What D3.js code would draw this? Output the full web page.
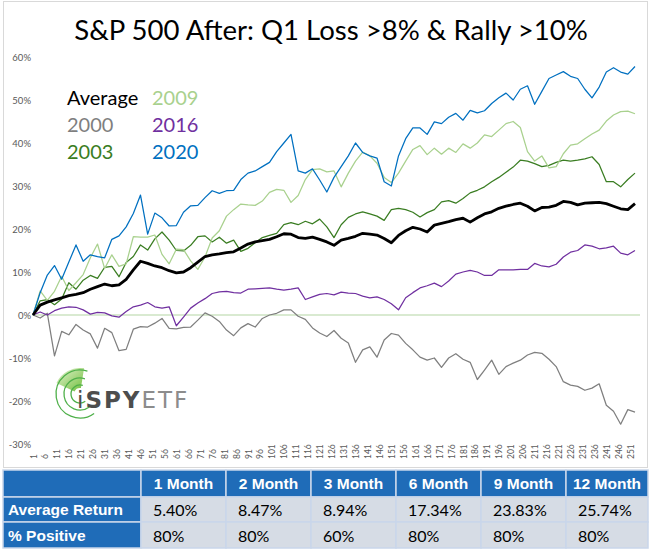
<!DOCTYPE html>
<html><head><meta charset="utf-8">
<script src="https://cdn.jsdelivr.net/npm/d3@7"></script>
<style>body{margin:0;background:#fff} svg{display:block}</style>
</head><body><svg id="c" width="650" height="552"></svg>
<script>
// ---------- DATA ----------
const days = d3.range(1, 254, 3);            // trading day of each sample
const xTickLabels = d3.range(1, 252, 5);     // 1, 6, 11 ... 251
const yTickValues = [-30, -20, -10, 0, 10, 20, 30, 40, 50, 60];

const avgVals = [0, 2.3, 3.0, 3.5, 4.0, 4.5, 4.8, 5.2, 6.0, 6.6,
 7.2, 6.8, 7.0, 8.3, 10.5, 12.5, 12.0, 11.4, 11.0, 10.3,
 9.8, 10.0, 11.0, 12.3, 13.6, 14.0, 14.2, 14.5, 14.7, 15.6,
 16.5, 17.0, 17.3, 17.6, 18.2, 18.9, 18.8, 18.0, 17.8, 18.1,
 17.6, 17.0, 16.2, 17.4, 17.8, 18.3, 19.0, 18.8, 18.6, 17.8,
 16.8, 18.5, 19.6, 20.4, 20.0, 19.3, 20.9, 21.3, 21.7, 22.2,
 22.5, 21.6, 22.6, 23.5, 24.0, 24.8, 25.3, 25.7, 26.0, 25.3,
 24.2, 25.0, 25.1, 25.5, 26.4, 26.2, 25.6, 26.0, 26.1, 26.2,
 25.9, 25.3, 24.7, 24.5, 25.9];
const vals2000 = [0, -0.7, 0.4, -9.5, -3.8, -4.6, -2.2, -3.5, -4.4, -7.7,
 -3.1, -4.1, -8.3, -8.0, -3.3, -2.7, -2.8, -1.9, -0.8, -3.1,
 -3.2, -2.9, -2.8, -1.2, 0.5, -0.3, -1.5, -3.5, -4.8, -3.0,
 -2.0, -2.8, -0.8, 0.0, 0.4, 1.2, 1.2, -0.3, -1.0, -3.0,
 -4.2, -5.0, -3.6, -5.4, -6.5, -11.0, -8.1, -7.4, -9.8, -5.8,
 -4.3, -4.7, -6.6, -8.1, -9.8, -10.5, -10.0, -12.2, -10.0, -9.0,
 -10.3, -11.0, -15.0, -12.8, -10.5, -13.8, -12.0, -11.2, -10.5, -9.3,
 -8.7, -8.9, -10.3, -12.0, -15.5, -16.3, -16.6, -17.5, -17.0, -16.0,
 -21.0, -22.4, -25.4, -22.0, -22.6];
const vals2003 = [0, 3.3, 3.6, 2.4, 3.7, 7.5, 6.0, 8.1, 9.2, 8.5,
 11.1, 11.3, 8.9, 12.2, 13.6, 16.3, 15.1, 17.7, 19.3, 17.4,
 15.0, 14.9, 16.2, 18.2, 18.4, 17.0, 18.1, 16.7, 17.4, 14.8,
 15.5, 16.8, 18.0, 18.5, 19.0, 21.0, 21.5, 21.0, 21.8, 21.2,
 22.3, 20.5, 18.0, 21.0, 22.7, 23.5, 24.0, 23.5, 23.0, 22.0,
 24.5, 24.8, 24.5, 23.9, 22.8, 23.8, 24.5, 26.3, 26.6, 26.0,
 27.1, 28.4, 29.0, 29.8, 31.0, 32.0, 33.2, 34.4, 36.0, 35.8,
 35.2, 34.5, 34.8, 35.5, 36.0, 35.8, 36.0, 36.3, 36.8, 35.0,
 31.0, 31.0, 29.8, 31.5, 33.0];
const vals2009 = [0, 5.6, 3.4, 5.5, 9.0, 5.7, 7.5, 9.4, 13.3, 16.5,
 10.8, 14.0, 11.3, 11.9, 18.2, 18.1, 18.1, 18.6, 14.1, 11.9,
 15.3, 15.2, 12.6, 10.6, 13.5, 17.9, 19.6, 23.0, 24.5, 25.8,
 25.6, 25.5, 26.5, 28.5, 29.2, 29.0, 26.2, 27.8, 31.5, 33.8,
 34.0, 33.3, 33.5, 29.8, 33.0, 35.8, 37.9, 37.0, 35.3, 32.0,
 30.8, 33.0, 35.8, 38.5, 39.4, 37.3, 38.8, 37.4, 38.8, 37.8,
 39.8, 38.8, 40.0, 41.9, 41.5, 43.0, 44.5, 45.0, 43.6, 38.0,
 35.8, 37.0, 34.2, 34.5, 37.5, 39.5, 39.8, 41.0, 42.1, 43.0,
 45.1, 46.5, 47.3, 47.4, 46.8];
const vals2016 = [0, 0.7, 0.0, 1.0, 1.6, 1.9, 1.8, 1.2, 0.2, 0.6,
 0.5, -0.2, -0.5, 0.8, 1.9, 2.3, 2.9, 1.9, 1.6, 1.9,
 -2.5, -0.5, 1.6, 2.8, 3.8, 5.0, 5.4, 5.5, 5.2, 5.1,
 6.0, 6.1, 6.2, 6.3, 6.0, 5.8, 6.0, 6.3, 3.6, 4.2,
 4.8, 5.0, 4.7, 5.3, 5.1, 5.0, 4.4, 4.0, 4.2, 3.6,
 2.6, 1.2, 4.0, 5.2, 6.3, 6.8, 7.4, 6.6, 7.9, 9.5,
 10.0, 10.4, 10.0, 9.2, 9.2, 10.5, 10.5, 10.5, 10.6, 10.6,
 12.0, 11.4, 11.2, 11.8, 13.5, 14.6, 15.0, 16.3, 16.0, 15.4,
 15.6, 16.0, 14.4, 14.0, 15.0];
const vals2020 = [0, 5.2, 9.3, 11.5, 8.3, 12.3, 16.3, 12.5, 14.0, 13.6,
 13.3, 17.6, 18.4, 20.5, 23.6, 27.9, 18.8, 23.7, 22.6, 20.7,
 20.8, 23.9, 25.4, 25.5, 27.3, 28.9, 28.3, 28.9, 29.0, 31.5,
 33.0, 33.5, 34.5, 35.5, 38.0, 40.0, 42.0, 33.5, 33.0, 34.0,
 31.4, 28.6, 32.0, 34.5, 37.0, 40.0, 37.8, 37.0, 36.5, 31.0,
 30.0, 37.0, 41.0, 43.5, 43.5, 42.0, 44.9, 44.5, 46.0, 46.9,
 45.3, 47.6, 47.0, 47.5, 49.2, 50.5, 51.6, 50.0, 52.5, 53.3,
 49.0, 52.0, 55.0, 55.8, 56.6, 55.5, 55.0, 52.5, 50.5, 53.0,
 56.5, 57.5, 56.5, 56.0, 57.8];

const seriesNames  = ["2000", "2003", "2009", "2016", "2020", "Average"];
const seriesValues = [vals2000, vals2003, vals2009, vals2016, vals2020, avgVals];
const seriesColors = ["#7f7f7f", "#3a7d22", "#a9d18e", "#7030a0", "#0070c0", "#000000"];

const tableHeaders = ["1 Month", "2 Month", "3 Month", "6 Month", "9 Month", "12 Month"];
const rowLabels    = ["Average Return", "% Positive"];
const avgReturn    = ["5.40%", "8.47%", "8.94%", "17.34%", "23.83%", "25.74%"];
const pctPositive  = ["80%", "80%", "60%", "80%", "80%", "80%"];

const titleText = "S&P 500 After: Q1 Loss >8% & Rally >10%";

// ---------- DRAW ----------
const svg = d3.select("#c");
const FONT = "Lato, 'Open Sans', sans-serif";

svg.append("rect").attr("x", 3.5).attr("y", 1.5).attr("width", 644).attr("height", 466)
  .attr("fill", "#fff").attr("stroke", "#d9d9d9");

const x = d3.scaleLinear().domain([1, 253]).range([33, 635]);
const y = d3.scaleLinear().domain([-30, 60]).range([444, 57]);

// title
const title = svg.append("text").attr("x", 331).attr("y", 40).attr("text-anchor", "middle")
  .attr("font-family", FONT).attr("font-size", 28).attr("fill", "#000").text(titleText);
{
  const w = title.node().getComputedTextLength();
  title.attr("font-size", 28 * 514 / w);
}

// y axis
const yAxis = svg.append("g").attr("transform", "translate(31,0)")
  .call(d3.axisLeft(y).tickValues(yTickValues).tickFormat(d => d + "%").tickSize(0).tickPadding(0));
yAxis.select(".domain").remove();
yAxis.selectAll("text").attr("font-family", FONT).attr("font-size", 9.5).attr("fill", "#595959");

// x axis labels
const xAxis = svg.append("g").attr("transform", "translate(0,444)")
  .call(d3.axisBottom(x).tickValues(xTickLabels).tickSize(0).tickFormat(d3.format("d")));
xAxis.select(".domain").remove();
xAxis.selectAll("text").attr("font-family", FONT).attr("font-size", 8.5).attr("fill", "#595959")
  .attr("text-anchor", "start").attr("transform", "translate(3,15) rotate(-90)")
  .attr("x", 0).attr("y", 0).attr("dy", 0);

// zero line
svg.append("line").attr("x1", 32).attr("x2", 640).attr("y1", y(0)).attr("y2", y(0))
  .attr("stroke", "#b3d6a3").attr("stroke-width", 1.2);

// logo
const logo = svg.append("g").attr("transform", "translate(80,394)");
const defs = svg.append("defs");
const grad = defs.append("linearGradient").attr("id", "wedge").attr("x1", "0").attr("y1", "0").attr("x2", "1").attr("y2", "1");
grad.append("stop").attr("offset", "0").attr("stop-color", "#e6f3d2");
grad.append("stop").attr("offset", "1").attr("stop-color", "#6fbf3b");
logo.append("path").attr("d", d3.arc().innerRadius(6).outerRadius(26).startAngle(-Math.PI * 0.36).endAngle(Math.PI * 0.05)())
  .attr("fill", "url(#wedge)");
[9, 16, 24].forEach(r => {
  logo.append("path").attr("d", d3.arc().innerRadius(r).outerRadius(r).startAngle(Math.PI * 0.8).endAngle(Math.PI * 2.1)())
    .attr("fill", "none").attr("stroke", "#4fb04a").attr("stroke-width", 1.3);
});
const lt = svg.append("text").attr("x", 77).attr("y", 408).attr("font-family", "'DejaVu Sans', sans-serif")
  .attr("font-size", 23).attr("letter-spacing", 2);
lt.append("tspan").attr("fill", "#4d4d4d").text("i");
lt.append("tspan").attr("fill", "#4d4d4d").attr("font-weight", "bold").text("SPY");
lt.append("tspan").attr("fill", "#8c8c8c").text("ETF");

// lines
const line = d3.line().x((d, i) => x(days[i])).y(d => y(d));
seriesValues.forEach((vals, k) => {
  svg.append("path").datum(vals).attr("d", line).attr("fill", "none")
    .attr("stroke", seriesColors[k]).attr("stroke-width", seriesNames[k] === "Average" ? 2.8 : 1.25)
    .attr("stroke-linejoin", "round");
});

// legend
const legendItems = [
  {name: "Average", col: 0, row: 0}, {name: "2000", col: 0, row: 1}, {name: "2003", col: 0, row: 2},
  {name: "2009", col: 1, row: 0}, {name: "2016", col: 1, row: 1}, {name: "2020", col: 1, row: 2}];
legendItems.forEach(it => {
  svg.append("text").attr("x", it.col ? 152 : 67).attr("y", 105 + it.row * 27)
    .attr("font-family", FONT).attr("font-size", 20)
    .attr("fill", seriesColors[seriesNames.indexOf(it.name)]).text(it.name);
});

// table
const colX = [3, 141, 226, 311, 396, 481, 566, 648];
const rowY = [470, 497, 522, 548];
const BLUE = "#1f6cb8", CELL = "#d6dce5";
for (let r = 0; r < 3; r++) {
  for (let c = 0; c < 7; c++) {
    const blue = r === 0 || c === 0;
    svg.append("rect").attr("x", colX[c]).attr("y", rowY[r])
      .attr("width", colX[c + 1] - colX[c]).attr("height", rowY[r + 1] - rowY[r])
      .attr("fill", blue ? BLUE : CELL).attr("stroke", "#c9d6ea").attr("stroke-width", 1.5);
  }
}
tableHeaders.forEach((h, i) => {
  svg.append("text").attr("x", (colX[i + 1] + colX[i + 2]) / 2).attr("y", 489)
    .attr("text-anchor", "middle").attr("font-family", "'Liberation Sans', Arial, sans-serif")
    .attr("font-weight", "bold").attr("font-size", 15.5).attr("fill", "#fff").text(h);
});
rowLabels.forEach((l, i) => {
  svg.append("text").attr("x", 8).attr("y", 515 + i * 26)
    .attr("font-family", "'Liberation Sans', Arial, sans-serif")
    .attr("font-weight", "bold").attr("font-size", 15.5).attr("fill", "#fff").text(l);
});
[avgReturn, pctPositive].forEach((row, r) => {
  row.forEach((v, i) => {
    svg.append("text").attr("x", colX[i + 1] + 12).attr("y", 516 + r * 26)
      .attr("font-family", FONT).attr("font-size", 16).attr("fill", "#000").text(v);
  });
});
</script></body></html>
